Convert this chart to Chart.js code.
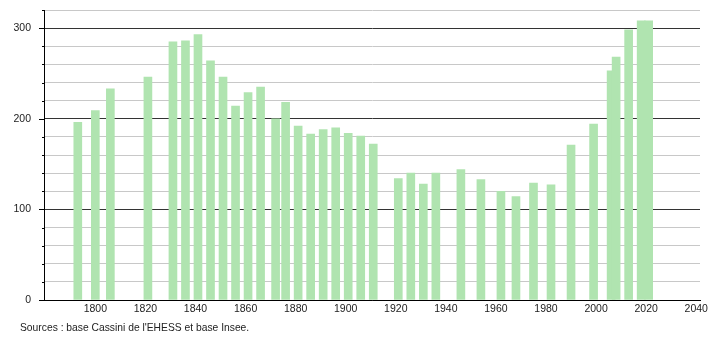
<!DOCTYPE html>
<html>
<head>
<meta charset="utf-8">
<script src="https://cdn.jsdelivr.net/npm/chart.js@4/dist/chart.umd.min.js"></script>
<style>
  body { margin: 0; background: #fff; }
  #wrap { position: relative; width: 710px; height: 340px; }
  #sources { position: absolute; left: 20px; top: 322px; font: 10.3px "Liberation Sans", Arial, sans-serif; color: #222; }
</style>
</head>
<body>
<div id="wrap">
  <canvas id="chartPop" width="710" height="340"></canvas>
  <div id="sources">Sources : base Cassini de l'EHESS et base Insee.</div>
</div>
<script>
const years = [1793, 1800, 1806, 1821, 1831, 1836, 1841, 1846, 1851, 1856, 1861, 1866, 1872, 1876, 1881, 1886, 1891, 1896, 1901, 1906, 1911, 1921, 1926, 1931, 1936, 1946, 1954, 1962, 1968, 1975, 1982, 1990, 1999, 2006, 2008, 2013, 2018, 2021]
const population = [196, 209, 233, 246, 285, 286, 293, 264, 246, 214, 229, 235, 200, 218, 192, 183, 188, 190, 184, 181, 172, 134, 140, 128, 140, 144, 133, 120, 114, 129, 127, 171, 194, 253, 268, 298, 308, 308]
const yearTicks = [1800, 1820, 1840, 1860, 1880, 1900, 1920, 1940, 1960, 1980, 2000, 2020, 2040]
const popTicks = [0, 100, 200, 300]

renderPopulation();

function renderPopulation() {
    const font = { family: '"Liberation Sans", Arial, sans-serif', size: 10.5 };

    // small tick marks on the left axis, longer on the hundreds
    const axisTicks = {
        id: 'axisTicks',
        afterDraw(chart) {
            const ctx = chart.ctx;
            const y = chart.scales.y;
            ctx.save();
            ctx.strokeStyle = '#000';
            ctx.lineWidth = 1;
            y.ticks.forEach(t => {
                const py = Math.round(y.getPixelForValue(t.value)) + 0.5;
                const len = t.value % 100 === 0 ? 5 : 2;
                ctx.beginPath();
                ctx.moveTo(y.right - len, py);
                ctx.lineTo(y.right, py);
                ctx.stroke();
            });
            ctx.restore();
        }
    };

    const data = {
        datasets: [{
            data: years.map((yr, i) => ({ x: yr, y: population[i] })),
            backgroundColor: '#b0e4b0',
            borderWidth: 0,
            barThickness: 8
        }]
    };

    const config = {
        type: 'bar',
        data: data,
        options: {
            responsive: false,
            animation: false,
            layout: { padding: { left: 0, right: 10, top: 10, bottom: 20 } },
            scales: {
                x: {
                    type: 'linear',
                    min: 1779.5,
                    max: 2041.5,
                    offset: false,
                    grid: { display: false, drawTicks: false },
                    border: { color: '#000' },
                    afterBuildTicks: scale => { scale.ticks = yearTicks.map(v => ({ value: v })) },
                    afterFit: scale => { scale.height = 20; scale.paddingLeft = 0; scale.paddingRight = 0 },
                    ticks: { font: font, color: '#222', padding: 3, maxRotation: 0, autoSkip: false, callback: v => v }
                },
                y: {
                    min: 0,
                    max: 320,
                    grid: {
                        drawTicks: false,
                        color: c => c.tick.value % 100 === 0 ? '#333' : '#c8c8c8'
                    },
                    border: { color: '#000' },
                    afterFit: scale => { scale.width = 44; scale.paddingTop = 0; scale.paddingBottom = 0 },
                    ticks: {
                        stepSize: 20,
                        font: font,
                        color: '#222',
                        padding: 13,
                        autoSkip: false,
                        callback: v => popTicks.includes(v) ? v : ''
                    }
                }
            },
            plugins: {
                legend: { display: false },
                tooltip: { enabled: false }
            }
        },
        plugins: [axisTicks]
    };

    var myChart = new Chart(
        document.getElementById('chartPop'),
        config
    );
}
</script>
</body>
</html>
